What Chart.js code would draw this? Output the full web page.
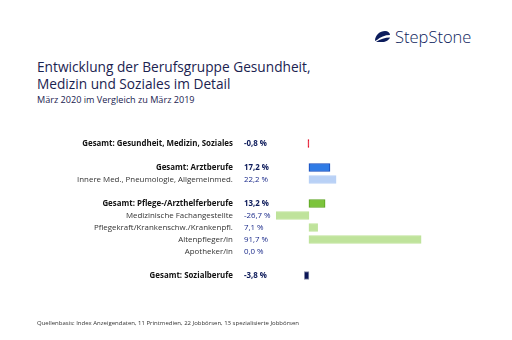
<!DOCTYPE html>
<html>
<head>
<meta charset="utf-8">
<script src="https://cdn.jsdelivr.net/npm/chart.js@4"></script>
<style>
  html, body { margin: 0; padding: 0; background: #fff; }
  #wrap { position: relative; width: 512px; height: 340px; overflow: hidden; font-family: "Open Sans", sans-serif; }
  #chart { position: absolute; left: 0; top: 0; }
  .title { position: absolute; left: 37px; top: 58px; font-size: 13.7px; line-height: 17px; color: #1b2350; }
  .sub { position: absolute; left: 37px; top: 93px; font-size: 9.1px; color: #1b2350; }
  .foot { position: absolute; left: 37px; top: 319px; font-size: 6px; color: #333; }
  .logo { position: absolute; left: 374px; top: 25px; color: #0c1c5c; font-size: 16.5px; font-weight: 300; font-family: "Open Sans", sans-serif; display: flex; align-items: center; }
  .logo svg { margin-right: 4px; }
</style>
</head>
<body>
<div id="wrap">
  <div class="logo">
    <svg width="17" height="13" viewBox="0 0 17 13"><path d="M1 11 C1 5 6 1 11 1 C14 1 16 3 16 5 C11 5 6 7 3 10 Z" fill="#0c1c5c"/><path d="M2 12 C6 9 11 7.5 16 7.5 C15 10 12 12 8 12 Z" fill="#0c1c5c"/></svg>
    <span>StepStone</span>
  </div>
  <div class="title">Entwicklung der Berufsgruppe Gesundheit,<br>Medizin und Soziales im Detail</div>
  <div class="sub">März 2020 im Vergleich zu März 2019</div>
  <canvas id="chart" width="512" height="340"></canvas>
  <div class="foot">Quellenbasis: Index Anzeigendaten, 11 Printmedien, 22 Jobbörsen, 13 spezialisierte Jobbörsen</div>
</div>
<script>
const categories = [
  'Gesamt: Gesundheit, Medizin, Soziales', '',
  'Gesamt: Arztberufe', 'Innere Med., Pneumologie, Allgemeinmed.', '',
  'Gesamt: Pflege-/Arzthelferberufe', 'Medizinische Fachangestellte',
  'Pflegekraft/Krankenschw./Krankenpfl.', 'Altenpfleger/in', 'Apotheker/in', '',
  'Gesamt: Sozialberufe'
];
const changes = [-0.8, null, 17.2, 22.2, null, 13.2, -26.7, 7.1, 91.7, 0.0, null, -3.8];
const barColors = ['#e3001b', null, '#2f7be6', '#b9d1f6', null, '#7cc43c', '#bfe39b', '#bfe39b', '#bfe39b', '#bfe39b', null, '#0a1657'];
const borderColors = ['#e3001b', null, '#1448b8', '#b9d1f6', null, '#5aa21e', '#bfe39b', '#bfe39b', '#bfe39b', '#bfe39b', null, '#8a8fa8'];

const fmt = v => v.toFixed(1).replace('.', ',') + ' %';

const rowText = {
  id: 'rowText',
  afterDatasetsDraw(chart) {
    const { ctx, scales: { x, y } } = chart;
    const zero = x.getPixelForValue(0);
    ctx.save();
    ctx.textBaseline = 'middle';
    categories.forEach((c, i) => {
      if (!c) return;
      const yy = y.getPixelForValue(i);
      const bold = c.startsWith('Gesamt');
      ctx.font = (bold ? 'bold ' : '') + '7.9px "Open Sans"';
      ctx.fillStyle = bold ? '#111' : '#333';
      ctx.textAlign = 'right';
      ctx.fillText(c, zero - 76, yy);
      ctx.textAlign = 'left';
      ctx.fillStyle = bold ? '#0c1a5a' : '#1a2a8a';
      ctx.fillText(fmt(changes[i]), zero - 65, yy);
    });
    ctx.restore();
  }
};

new Chart(document.getElementById('chart'), {
  type: 'bar',
  data: {
    labels: categories,
    datasets: [{
      data: changes,
      backgroundColor: barColors,
      borderColor: borderColors,
      borderWidth: 1,
      borderSkipped: false,
      barThickness: 8
    }]
  },
  options: {
    indexAxis: 'y',
    responsive: false,
    animation: false,
    layout: { padding: { left: 260, right: 44, top: 137.5, bottom: 58.5 } },
    scales: {
      x: { display: false, min: -40, max: 130 },
      y: { display: false }
    },
    plugins: { legend: { display: false }, tooltip: { enabled: false } }
  },
  plugins: [rowText]
});
</script>
</body>
</html>
